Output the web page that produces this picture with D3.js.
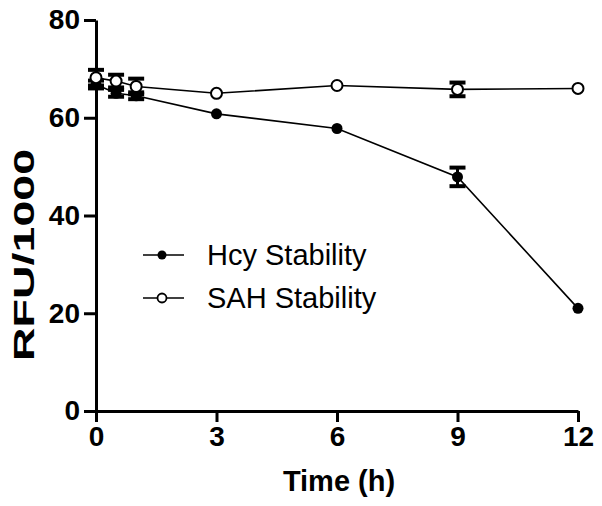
<!DOCTYPE html>
<html>
<head>
<meta charset="utf-8">
<script src="https://cdn.jsdelivr.net/npm/d3@7"></script>
<style>
  html, body { margin: 0; padding: 0; background: #fff; }
  svg { display: block; }
</style>
</head>
<body>
<script>
const times = [0, 0.5, 1, 3, 6, 9, 12];
const hcy = [66.8, 65.0, 64.5, 60.8, 57.8, 47.9, 21.0];
const hcyErr = [0.8, 0.7, 0.7, 0, 0, 1.9, 0];
const sah = [68.2, 67.5, 66.4, 65.0, 66.6, 65.8, 66.0];
const sahErr = [1.6, 1.3, 1.6, 0, 0, 1.4, 0];
const xTicks = [0, 3, 6, 9, 12];
const yTicks = [0, 20, 40, 60, 80];
const seriesNames = ["Hcy Stability", "SAH Stability"];

const W = 602, H = 506;
const svg = d3.select("body").append("svg").attr("width", W).attr("height", H);

const x = d3.scaleLinear().domain([0, 12]).range([96, 578]);
const y = d3.scaleLinear().domain([0, 80]).range([411, 20]);

const font = "'Liberation Sans', Arial, sans-serif";

// axes
const yAxis = svg.append("g").attr("transform", `translate(${x(0)},0)`)
  .call(d3.axisLeft(y).tickValues(yTicks).tickSize(12).tickSizeOuter(0).tickPadding(4));
const xAxis = svg.append("g").attr("transform", `translate(0,${y(0)})`)
  .call(d3.axisBottom(x).tickValues(xTicks).tickSize(11).tickSizeOuter(0).tickPadding(4));
[yAxis, xAxis].forEach(g => {
  g.select(".domain").attr("stroke", "#000").attr("stroke-width", 3);
  g.selectAll(".tick line").attr("stroke", "#000").attr("stroke-width", 3);
  g.selectAll(".tick text").attr("fill", "#000")
    .style("font-family", font).style("font-size", "28px").style("font-weight", "bold");
});

// axis titles
svg.append("text").attr("x", (x(0) + x(12)) / 2 + 2).attr("y", 491)
  .attr("text-anchor", "middle")
  .style("font-family", font).style("font-size", "29px").style("font-weight", "bold")
  .text("Time (h)");
svg.append("text").attr("transform", `translate(34,255) rotate(-90)`)
  .attr("text-anchor", "middle")
  .attr("textLength", 212).attr("lengthAdjust", "spacingAndGlyphs")
  .style("font-family", font).style("font-size", "29px").style("font-weight", "bold")
  .text("RFU/1000");

const line = d3.line().x(d => x(d[0])).y(d => y(d[1]));
const hcyPts = times.map((t, i) => [t, hcy[i], hcyErr[i]]);
const sahPts = times.map((t, i) => [t, sah[i], sahErr[i]]);

[hcyPts, sahPts].forEach(pts => {
  svg.append("path").datum(pts).attr("d", line)
    .attr("fill", "none").attr("stroke", "#000").attr("stroke-width", 1.6);
});

// error bars
function errBars(pts) {
  const g = svg.append("g");
  pts.filter(p => p[2] > 0).forEach(p => {
    g.append("line").attr("x1", x(p[0])).attr("x2", x(p[0]))
      .attr("y1", y(p[1] - p[2])).attr("y2", y(p[1] + p[2]))
      .attr("stroke", "#000").attr("stroke-width", 3);
    [p[1] - p[2], p[1] + p[2]].forEach(v => {
      g.append("line").attr("x1", x(p[0]) - 8).attr("x2", x(p[0]) + 8)
        .attr("y1", y(v)).attr("y2", y(v))
        .attr("stroke", "#000").attr("stroke-width", 4);
    });
  });
}
errBars(hcyPts);
errBars(sahPts);

// markers
svg.append("g").selectAll("circle").data(hcyPts).join("circle")
  .attr("cx", d => x(d[0])).attr("cy", d => y(d[1])).attr("r", 5.5)
  .attr("fill", "#000");
svg.append("g").selectAll("circle").data(sahPts).join("circle")
  .attr("cx", d => x(d[0])).attr("cy", d => y(d[1])).attr("r", 5.5)
  .attr("fill", "#fff").attr("stroke", "#000").attr("stroke-width", 2);

// legend
const leg = svg.append("g");
seriesNames.forEach((name, i) => {
  const cy = 255 + i * 43;
  leg.append("line").attr("x1", 143).attr("x2", 184).attr("y1", cy).attr("y2", cy)
    .attr("stroke", "#000").attr("stroke-width", 1.6);
  leg.append("circle").attr("cx", 162).attr("cy", cy).attr("r", 4.5)
    .attr("fill", i === 0 ? "#000" : "#fff").attr("stroke", "#000").attr("stroke-width", i === 0 ? 0 : 1.8);
  leg.append("text").attr("x", 207).attr("y", cy + 10)
    .style("font-family", font).style("font-size", "29px")
    .text(name);
});
</script>
</body>
</html>
